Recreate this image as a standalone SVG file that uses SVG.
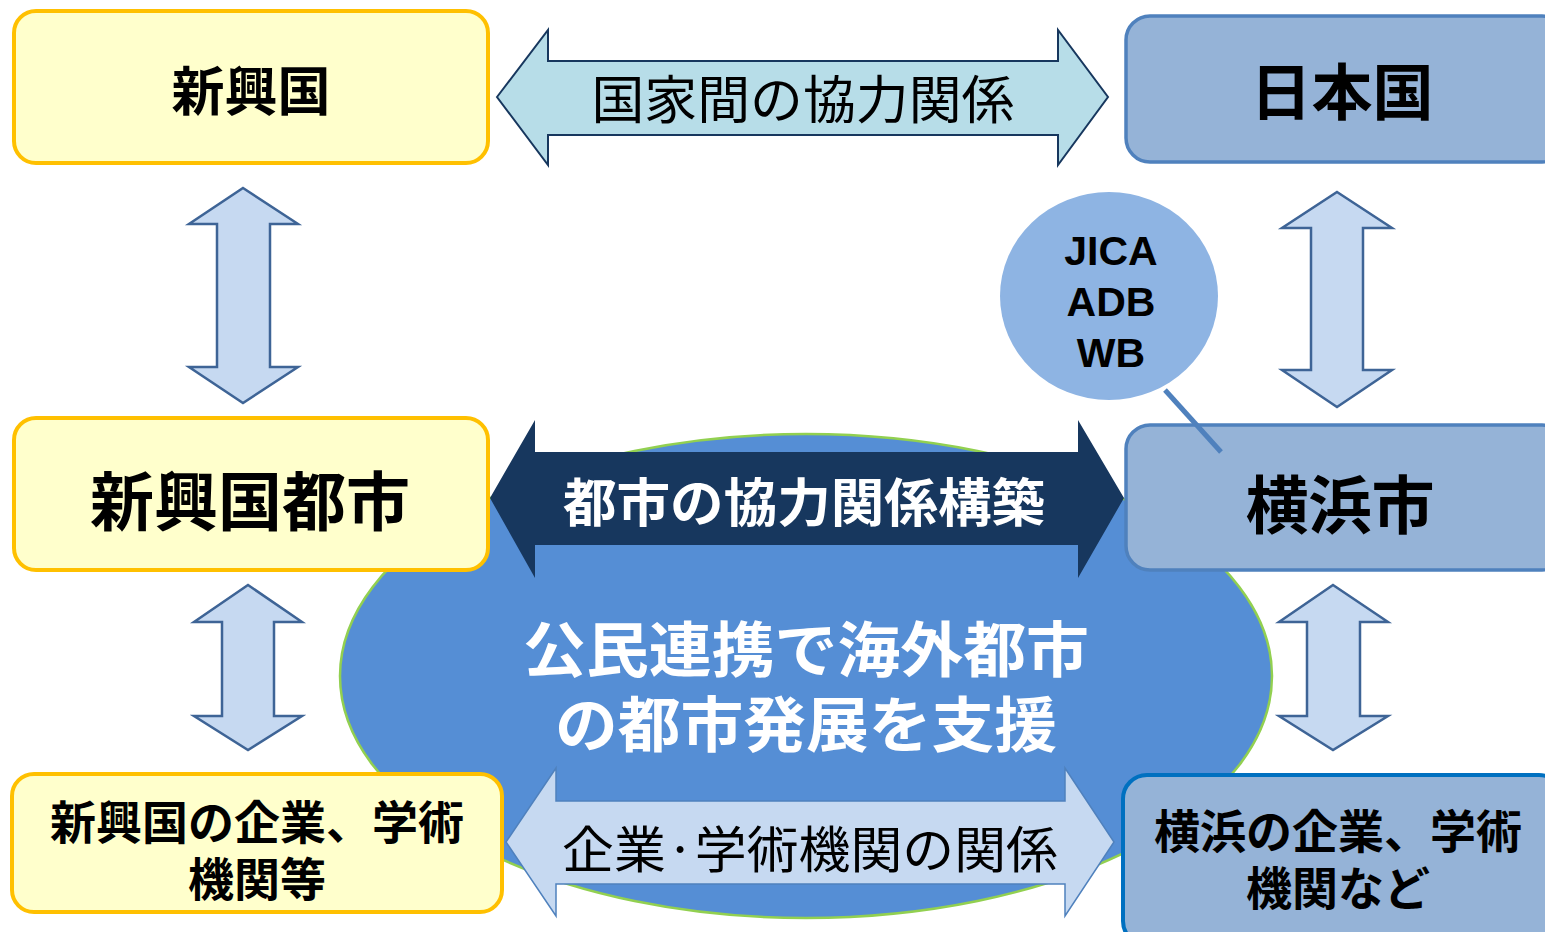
<svg xmlns="http://www.w3.org/2000/svg" width="1545" height="932" viewBox="0 0 1545 932">
<style>
.jp{font-family:"Noto Sans CJK JP","Noto Sans CJK SC",sans-serif;text-anchor:middle;dominant-baseline:central}
.b{font-weight:bold}
.ybox{fill:#FFFFCC;stroke:#FFC000;stroke-width:4}
.bbox{fill:#95B3D7;stroke:#4F81BD;stroke-width:3.5}
.varrow{fill:#C6D9F1;stroke:#3E6496;stroke-width:2.5}
</style>
<rect width="1545" height="932" fill="#FFFFFF"/>
<g id="center-ellipse">
<ellipse cx="806" cy="676" rx="466" ry="242" fill="#558ED5" stroke="#92D050" stroke-width="2.5"/>
<text class="jp b" x="806" y="645" font-size="60" fill="#FFFFFF" textLength="566" lengthAdjust="spacingAndGlyphs">公民連携で海外都市</text>
<text class="jp b" x="806" y="720" font-size="60" fill="#FFFFFF" textLength="502" lengthAdjust="spacingAndGlyphs">の都市発展を支援</text>
</g>
<g id="connectors">
<path d="M497,97 L548,30 L548,61 L1058,61 L1058,30 L1108,97 L1058,165 L1058,135 L548,135 L548,165 Z" fill="#B7DDE8" stroke="#17375E" stroke-width="2"/>
<text class="jp" x="803" y="96" font-size="52" fill="#000000" textLength="423" lengthAdjust="spacingAndGlyphs">国家間の協力関係</text>
<path d="M243,188 L298,224 L270,224 L270,367 L298,367 L243,403 L189,367 L217,367 L217,224 L189,224 Z" class="varrow"/>
<path d="M1337,192 L1392,228 L1363,228 L1363,370 L1392,370 L1337,407 L1282,370 L1311,370 L1311,228 L1282,228 Z" class="varrow"/>
<path d="M248,585 L302,622 L274,622 L274,716 L302,716 L248,750 L194,716 L222,716 L222,622 L194,622 Z" class="varrow"/>
<path d="M1333,585 L1388,622 L1360,622 L1360,716 L1388,716 L1333,750 L1279,716 L1307,716 L1307,622 L1279,622 Z" class="varrow"/>
<path d="M490,498 L535,420 L535,452 L1078,452 L1078,420 L1124,498 L1078,578 L1078,545 L535,545 L535,578 Z" fill="#17375E"/>
<text class="jp b" x="804" y="499" font-size="52" fill="#FFFFFF" textLength="482" lengthAdjust="spacingAndGlyphs">都市の協力関係構築</text>
<path d="M506,842 L556,768 L556,801 L1065,801 L1065,768 L1114,842 L1065,916 L1065,884 L556,884 L556,916 Z" fill="#C6D9F1" stroke="#4F81BD" stroke-width="1.5"/>
<text class="jp" x="810" y="846" font-size="50" fill="#000000" textLength="496" lengthAdjust="spacingAndGlyphs">企業·学術機関の関係</text>
</g>
<g id="node-shinkokoku">
<rect x="14" y="11" width="474" height="152" rx="22" class="ybox"/>
<text class="jp b" x="251" y="88" font-size="53" fill="#000000">新興国</text>
</g>
<g id="node-nihon">
<rect x="1126" y="16" width="440" height="146" rx="24" class="bbox"/>
<text class="jp b" x="1342" y="88" font-size="61" fill="#000000">日本国</text>
</g>
<g id="node-shinkokoku-toshi">
<rect x="14" y="418" width="474" height="152" rx="22" class="ybox"/>
<text class="jp b" x="250" y="497" font-size="64" fill="#000000">新興国都市</text>
</g>
<g id="node-yokohama">
<rect x="1126" y="425" width="440" height="145" rx="24" class="bbox"/>
<text class="jp b" x="1340" y="500" font-size="63" fill="#000000">横浜市</text>
</g>
<g id="node-shinkokoku-kigyo">
<rect x="12" y="774" width="490" height="138" rx="22" class="ybox"/>
<text class="jp b" x="257" y="819" font-size="46" fill="#000000">新興国の企業、学術</text>
<text class="jp b" x="257" y="876" font-size="46" fill="#000000">機関等</text>
</g>
<g id="node-yokohama-kigyo">
<rect x="1123" y="775" width="440" height="170" rx="24" fill="#95B3D7" stroke="#0070C0" stroke-width="4"/>
<text class="jp b" x="1338" y="828" font-size="46" fill="#000000">横浜の企業、学術</text>
<text class="jp b" x="1338" y="885" font-size="46" fill="#000000">機関など</text>
</g>
<g id="node-jica">
<ellipse cx="1109" cy="296" rx="109" ry="104" fill="#8EB4E3"/>
<line x1="1165" y1="390" x2="1221" y2="452" stroke="#4F81BD" stroke-width="5"/>
<g font-family="Liberation Sans, Arial, sans-serif" font-weight="bold" font-size="41" text-anchor="middle" fill="#000000">
<text x="1111" y="265">JICA</text>
<text x="1111" y="316">ADB</text>
<text x="1111" y="367">WB</text>
</g>
</g>
</svg>
